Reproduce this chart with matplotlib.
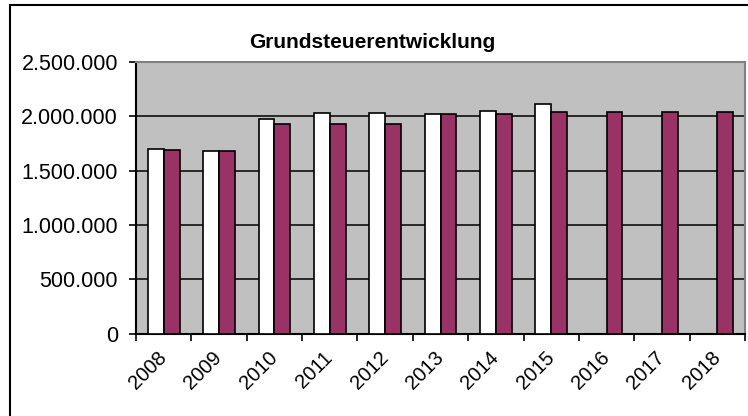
import numpy as np
import matplotlib.pyplot as plt
from matplotlib.patches import Rectangle
from matplotlib.ticker import FuncFormatter, FixedLocator

plt.rcParams['font.family'] = ['Liberation Sans', 'DejaVu Sans']

years = ['2008', '2009', '2010', '2011', '2012', '2013', '2014', '2015', '2016', '2017', '2018']
# white bars (only up to 2015)
ist = [1703000, 1684000, 1975000, 2034000, 2034000, 2018000, 2052000, 2110000]
# plum bars
plan = [1687000, 1685000, 1926000, 1926000, 1926000, 2018000, 2018000, 2037000, 2037000, 2037000, 2037000]
yticks = [0, 500000, 1000000, 1500000, 2000000, 2500000]

W, H = 748, 416
fig = plt.figure(figsize=(W/100, H/100), dpi=100)
ax = fig.add_axes([136/W, (H-333.5)/H, (745-136)/W, (333.5-62)/H])
ax.set_facecolor('#C0C0C0')

bw = 1/3.5
x = np.arange(len(years))
ax.bar(x[:len(ist)] - bw/2, ist, bw, color='white', edgecolor='black', linewidth=1.2, zorder=3)
ax.bar(x - bw/2 + bw, plan, bw, color='#993366', edgecolor='black', linewidth=1.2, zorder=3)

ax.set_xlim(-0.5, len(years) - 0.5)
ax.set_ylim(0, 2500000)
ax.set_yticks(yticks)
ax.yaxis.set_major_formatter(FuncFormatter(lambda v, p: f'{int(v):,}'.replace(',', '.')))
ax.yaxis.grid(True, color='black', linewidth=1.1, zorder=1)
ax.set_axisbelow(True)

ax.xaxis.set_major_locator(FixedLocator(np.arange(-0.5, len(years), 1.0)))
ax.xaxis.set_major_formatter(FuncFormatter(lambda v, p: ''))
ax.xaxis.set_minor_locator(FixedLocator(x))
ax.set_xticklabels(years, minor=True, rotation=45, ha='right', va='center',
                   rotation_mode='anchor', fontsize=14.5)
ax.tick_params(axis='x', which='minor', length=0, pad=15)
ax.tick_params(axis='x', which='major', length=5, width=1.2, direction='out')
ax.tick_params(axis='y', length=5, width=1.2, direction='out', pad=8, labelsize=15.5)

for s in ['left', 'bottom']:
    ax.spines[s].set_color('black')
    ax.spines[s].set_linewidth(1.5)
for s in ['top', 'right']:
    ax.spines[s].set_color('#808080')
    ax.spines[s].set_linewidth(1.5)

fig.text(372/W, 1 - 42/H, 'Grundsteuerentwicklung', ha='center', va='center',
         fontsize=15, fontweight='bold')

fig.add_artist(Rectangle((10/W, -0.1), 1.0, 1.1 - 5.5/H, transform=fig.transFigure,
                         fill=False, edgecolor='black', linewidth=1.5, clip_on=False))

fig.savefig('out.png', dpi=100)
